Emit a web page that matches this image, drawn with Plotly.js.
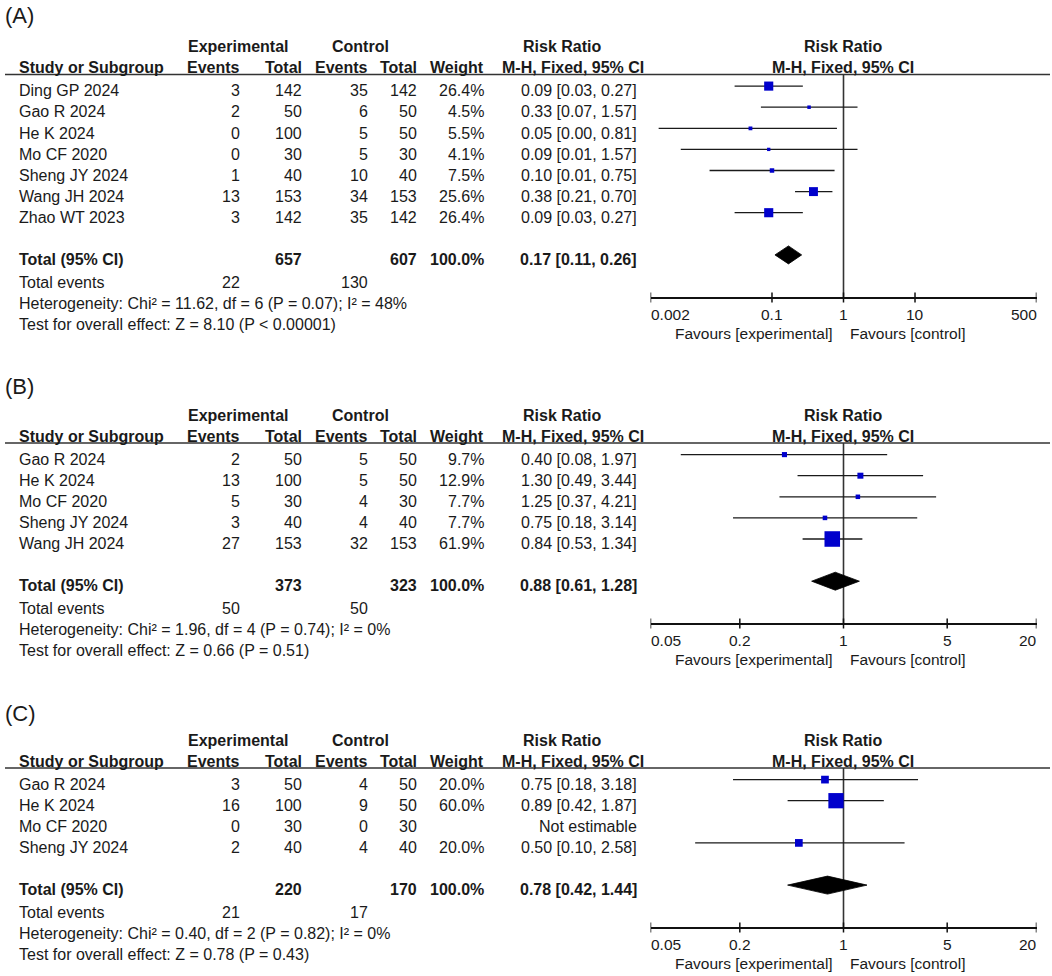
<!DOCTYPE html>
<html><head><meta charset="utf-8">
<script src="https://cdn.plot.ly/plotly-3.0.1.min.js"></script>
<style>html,body{margin:0;padding:0;background:#fff}</style>
</head><body><div id="chart" style="width:1052px;height:976px"></div>
<script>
// ---------------- Panel A ----------------
const studiesA = ['Ding GP 2024','Gao R 2024','He K 2024','Mo CF 2020','Sheng JY 2024','Wang JH 2024','Zhao WT 2023'];
const expEventsA = [3,2,0,0,1,13,3];
const expTotalA = [142,50,100,30,40,153,142];
const ctrlEventsA = [35,6,5,5,10,34,35];
const ctrlTotalA = [142,50,50,30,40,153,142];
const weightA = [26.4,4.5,5.5,4.1,7.5,25.6,26.4];
const rrA = [0.09,0.33,0.05,0.09,0.10,0.38,0.09];
const lowA = [0.03,0.07,0.0026,0.0053,0.0134,0.21,0.03];
const highA = [0.27,1.57,0.81,1.57,0.75,0.70,0.27];
const pooledA = [0.17,0.11,0.26];
const totalsA = [657,607];
const totalEventsA = [22,130];
const hetA = 'Heterogeneity: Chi² = 11.62, df = 6 (P = 0.07); I² = 48%';
const testA = 'Test for overall effect: Z = 8.10 (P < 0.00001)';
const ticksA = [0.002,0.1,1,10,500];
const tickLabelsA = ['0.002','0.1','1','10','500'];

// ---------------- Panel B ----------------
const studiesB = ['Gao R 2024','He K 2024','Mo CF 2020','Sheng JY 2024','Wang JH 2024'];
const expEventsB = [2,13,5,3,27];
const expTotalB = [50,100,30,40,153];
const ctrlEventsB = [5,5,4,4,32];
const ctrlTotalB = [50,50,30,40,153];
const weightB = [9.7,12.9,7.7,7.7,61.9];
const rrB = [0.40,1.30,1.25,0.75,0.84];
const lowB = [0.08,0.49,0.37,0.18,0.53];
const highB = [1.97,3.44,4.21,3.14,1.34];
const pooledB = [0.88,0.61,1.28];
const totalsB = [373,323];
const totalEventsB = [50,50];
const hetB = 'Heterogeneity: Chi² = 1.96, df = 4 (P = 0.74); I² = 0%';
const testB = 'Test for overall effect: Z = 0.66 (P = 0.51)';
const ticksB = [0.05,0.2,1,5,20];
const tickLabelsB = ['0.05','0.2','1','5','20'];

// ---------------- Panel C ----------------
const studiesC = ['Gao R 2024','He K 2024','Mo CF 2020','Sheng JY 2024'];
const expEventsC = [3,16,0,2];
const expTotalC = [50,100,30,40];
const ctrlEventsC = [4,9,0,4];
const ctrlTotalC = [50,50,30,40];
const weightC = [20.0,60.0,null,20.0];
const rrC = [0.75,0.89,null,0.50];
const lowC = [0.18,0.42,null,0.10];
const highC = [3.18,1.87,null,2.58];
const pooledC = [0.78,0.42,1.44];
const totalsC = [220,170];
const totalEventsC = [21,17];
const hetC = 'Heterogeneity: Chi² = 0.40, df = 2 (P = 0.82); I² = 0%';
const testC = 'Test for overall effect: Z = 0.78 (P = 0.43)';
const ticksC = [0.05,0.2,1,5,20];
const tickLabelsC = ['0.05','0.2','1','5','20'];

// ---------------- layout helpers ----------------
const W = 1052, H = 976;
const FONT = 'Liberation Sans, Arial, Helvetica, sans-serif';
const TXT = '#1a1a1a';
const COL = {name:18.5, expE:240, expT:301.5, ctrlE:367.5, ctrlT:417, weight:483.5,
             rr:637, rrHead:643.5, rrHeadC:562, expHead:238, ctrlHead:360,
             plotL:650.5, plotR:1036.5, plotHead:843};
const ROW0 = 16.3, STEP = 21.1, MOFF = 4.7;

const panels = [
  {label:'(A)', labelY:15, U:74.5, axisY:297.5, studies:studiesA, expE:expEventsA, expT:expTotalA, ctrlE:ctrlEventsA, ctrlT:ctrlTotalA,
   weight:weightA, rr:rrA, low:lowA, high:highA, pooled:pooledA, totals:totalsA, tev:totalEventsA, het:hetA, test:testA, ticks:ticksA, tickLabels:tickLabelsA},
  {label:'(B)', labelY:386, U:443, axisY:623.5, studies:studiesB, expE:expEventsB, expT:expTotalB, ctrlE:ctrlEventsB, ctrlT:ctrlTotalB,
   weight:weightB, rr:rrB, low:lowB, high:highB, pooled:pooledB, totals:totalsB, tev:totalEventsB, het:hetB, test:testB, ticks:ticksB, tickLabels:tickLabelsB},
  {label:'(C)', labelY:713, U:768, axisY:927.5, studies:studiesC, expE:expEventsC, expT:expTotalC, ctrlE:ctrlEventsC, ctrlT:ctrlTotalC,
   weight:weightC, rr:rrC, low:lowC, high:highC, pooled:pooledC, totals:totalsC, tev:totalEventsC, het:hetC, test:testC, ticks:ticksC, tickLabels:tickLabelsC}
];

const traces = [], annotations = [], shapes = [], layout = {};

function ann(x, y, text, anchor, opts) {
  opts = opts || {};
  annotations.push(Object.assign({
    x: x, y: y, xref: 'paper', yref: 'y', text: text, showarrow: false,
    xanchor: anchor, yanchor: 'middle', borderpad: 0, borderwidth: 0,
    font: {family: FONT, size: opts.size || 16, color: TXT}
  }, opts.extra || {}));
}
const px = v => v / W;
const b = s => '<b>' + s + '</b>';
const fmtCI = (r, l, h) => r.toFixed(2) + ' [' + l.toFixed(2) + ', ' + h.toFixed(2) + ']';
const markerSize = w => 1.2 + 0.8 * Math.pow(w, 0.7);

panels.forEach((p, k) => {
  const xa = k === 0 ? 'x' : 'x' + (k + 1);
  const axName = k === 0 ? 'xaxis' : 'xaxis' + (k + 1);
  const U = p.U;
  const rowY = i => U + ROW0 + i * STEP;
  const n = p.studies.length;

  // panel label & headers
  ann(px(5), p.labelY, p.label, 'left', {size: 22});
  ann(px(COL.expHead), U - 28, b('Experimental'), 'center');
  ann(px(COL.ctrlHead), U - 28, b('Control'), 'center');
  ann(px(COL.rrHeadC), U - 28, b('Risk Ratio'), 'center');
  ann(px(COL.plotHead), U - 28, b('Risk Ratio'), 'center');
  const h2 = U - 6.7;
  ann(px(COL.name), h2, b('Study or Subgroup'), 'left');
  ann(px(COL.expE), h2, b('Events'), 'right');
  ann(px(COL.expT), h2, b('Total'), 'right');
  ann(px(COL.ctrlE), h2, b('Events'), 'right');
  ann(px(COL.ctrlT), h2, b('Total'), 'right');
  ann(px(COL.weight), h2, b('Weight'), 'right');
  ann(px(COL.rrHead), h2, b('M-H, Fixed, 95% CI'), 'right');
  ann(px(COL.plotHead), h2, b('M-H, Fixed, 95% CI'), 'center');
  shapes.push({type: 'line', xref: 'paper', yref: 'y', x0: px(5), x1: px(1050), y0: U, y1: U,
               line: {color: '#333', width: 1.6}});

  // study rows
  p.studies.forEach((s, i) => {
    const y = rowY(i);
    ann(px(COL.name), y, s, 'left');
    ann(px(COL.expE), y, String(p.expE[i]), 'right');
    ann(px(COL.expT), y, String(p.expT[i]), 'right');
    ann(px(COL.ctrlE), y, String(p.ctrlE[i]), 'right');
    ann(px(COL.ctrlT), y, String(p.ctrlT[i]), 'right');
    if (p.weight[i] != null) ann(px(COL.weight), y, p.weight[i].toFixed(1) + '%', 'right');
    ann(px(COL.rr), y, p.rr[i] != null ? fmtCI(p.rr[i], p.low[i], p.high[i]) : 'Not estimable', 'right');
  });

  // totals
  const yT = rowY(n + 1);
  ann(px(COL.name), yT, b('Total (95% CI)'), 'left');
  ann(px(COL.expT), yT, b(String(p.totals[0])), 'right');
  ann(px(COL.ctrlT), yT, b(String(p.totals[1])), 'right');
  ann(px(COL.weight), yT, b('100.0%'), 'right');
  ann(px(COL.rr), yT, b(fmtCI(p.pooled[0], p.pooled[1], p.pooled[2])), 'right');
  const yE = yT + 22.8;
  ann(px(COL.name), yE, 'Total events', 'left');
  ann(px(COL.expE), yE, String(p.tev[0]), 'right');
  ann(px(COL.ctrlE), yE, String(p.tev[1]), 'right');
  ann(px(COL.name), yE + 21, p.het, 'left');
  ann(px(COL.name), yE + 42, p.test, 'left');

  // forest plot
  const base = {xaxis: xa, yaxis: 'y', hoverinfo: 'skip', showlegend: false};
  traces.push(Object.assign({x: [1, 1], y: [U, p.axisY], mode: 'lines', line: {color: '#333', width: 1.6}}, base));
  const cx = [], cy = [], mx = [], my = [], ms = [];
  p.studies.forEach((s, i) => {
    if (p.rr[i] == null) return;
    const y = rowY(i) - MOFF;
    cx.push(p.low[i], p.high[i], null); cy.push(y, y, null);
    mx.push(p.rr[i]); my.push(y); ms.push(markerSize(p.weight[i]));
  });
  traces.push(Object.assign({x: cx, y: cy, mode: 'lines', line: {color: '#1a1a1a', width: 1.3}}, base));
  traces.push(Object.assign({x: mx, y: my, mode: 'markers',
    marker: {symbol: 'square', size: ms, color: '#0000cc', opacity: 1, line: {width: 0}}}, base));
  const yd = yT - MOFF;
  traces.push(Object.assign({x: [p.pooled[1], p.pooled[0], p.pooled[2], p.pooled[0], p.pooled[1]],
    y: [yd, yd - 9, yd, yd + 9, yd], mode: 'lines', fill: 'toself', fillcolor: '#000',
    line: {color: '#000', width: 0.8}}, base));
  // tick marks crossing the axis line
  const tx = [], ty = [];
  p.ticks.forEach(t => { tx.push(t, t, null); ty.push(p.axisY - 5, p.axisY + 5, null); });
  traces.push(Object.assign({x: tx, y: ty, mode: 'lines', line: {color: '#111', width: 1.5}}, base));

  layout[axName] = {
    type: 'log', range: [Math.log10(p.ticks[0]), Math.log10(p.ticks[p.ticks.length - 1])],
    domain: [px(COL.plotL), px(COL.plotR)], anchor: 'free', position: 1 - p.axisY / H,
    showline: true, linecolor: '#111', linewidth: 2, ticks: '', showticklabels: false,
    showgrid: false, zeroline: false, fixedrange: true
  };
  p.ticks.forEach((t, j) => {
    annotations.push({x: Math.log10(t), xref: xa, y: p.axisY + 16.5, yref: 'y', text: p.tickLabels[j],
      showarrow: false, yanchor: 'middle', borderpad: 0, borderwidth: 0,
      xanchor: j === 0 ? 'left' : (j === p.ticks.length - 1 ? 'right' : 'center'),
      font: {family: FONT, size: 15.5, color: TXT}});
  });
  annotations.push({x: 0, xref: xa, y: p.axisY + 36, yref: 'y', text: 'Favours [experimental]', xshift: -11,
    showarrow: false, xanchor: 'right', yanchor: 'middle', borderpad: 0, borderwidth: 0, font: {family: FONT, size: 15.5, color: TXT}});
  annotations.push({x: 0, xref: xa, y: p.axisY + 36, yref: 'y', text: 'Favours [control]', xshift: 6,
    showarrow: false, xanchor: 'left', yanchor: 'middle', borderpad: 0, borderwidth: 0, font: {family: FONT, size: 15.5, color: TXT}});
});

Object.assign(layout, {
  width: W, height: H, margin: {l: 0, r: 0, t: 0, b: 0, pad: 0},
  paper_bgcolor: '#fff', plot_bgcolor: 'rgba(0,0,0,0)', showlegend: false,
  yaxis: {range: [H, 0], domain: [0, 1], visible: false, fixedrange: true},
  annotations: annotations, shapes: shapes, font: {family: FONT, color: TXT}
});

Plotly.newPlot('chart', traces, layout, {staticPlot: true, displayModeBar: false});
</script></body></html>
